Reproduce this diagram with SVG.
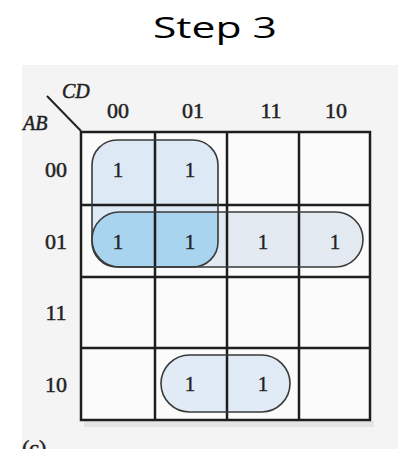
<svg xmlns="http://www.w3.org/2000/svg" width="398" height="449" viewBox="0 0 398 449">
  <defs>
    <style>
      .title { font-family: "Open Sans", "Liberation Sans", sans-serif; font-size: 29px; fill: #000; }
      .lbl { font-family: "Liberation Serif", serif; font-size: 22px; fill: #222; stroke: #222; stroke-width: 0.5; text-anchor: middle; }
      .var { font-family: "Liberation Serif", serif; font-style: italic; font-size: 20px; fill: #222; stroke: #222; stroke-width: 0.5; }
      .cap { font-family: "Liberation Serif", serif; font-size: 22px; fill: #222; stroke: #222; stroke-width: 0.5; }
      .one { font-family: "Liberation Serif", serif; font-size: 21px; fill: #222; stroke: #222; stroke-width: 0.4; text-anchor: middle; }
      .grid { stroke: #1e1e1e; stroke-width: 2.5; fill: none; }
      .loop { stroke: #3a3a3a; stroke-width: 1.6; fill: none; }
    </style>
    <clipPath id="vclip">
      <rect x="92" y="140" width="126" height="127" rx="25" ry="25"/>
    </clipPath>
  </defs>

  <rect x="0" y="0" width="398" height="449" fill="#ffffff"/>
  <g id="title">
    <text class="title" x="215" y="38" text-anchor="middle" textLength="124" lengthAdjust="spacingAndGlyphs">Step 3</text>
  </g>

  <!-- photo background -->
  <rect x="22" y="65" width="376" height="384" fill="#f4f4f4"/>
  <rect x="84" y="421" width="290" height="6" fill="#e4e4e4"/>

  <g id="axis-labels">
    <line x1="47" y1="96" x2="81" y2="131" stroke="#222" stroke-width="2"/>
    <text class="var" x="62" y="98">CD</text>
    <text class="var" x="23" y="130">AB</text>
    <text class="lbl" x="118" y="118">00</text>
    <text class="lbl" x="193" y="118">01</text>
    <text class="lbl" x="271" y="118">11</text>
    <text class="lbl" x="336" y="118">10</text>
    <text class="lbl" x="56" y="177">00</text>
    <text class="lbl" x="56" y="249">01</text>
    <text class="lbl" x="56" y="320">11</text>
    <text class="lbl" x="56" y="392">10</text>
    <text class="cap" x="22" y="455">(c)</text>
  </g>

  <g id="cells-bg">
    <rect x="81" y="132" width="289" height="288" fill="#fbfbfb"/>
  </g>

  <g id="loop-fills">
    <rect x="92" y="140" width="126" height="127" rx="25" ry="25" fill="#dde9f4"/>
    <rect x="92" y="212" width="271" height="55" rx="27.5" ry="27.5" fill="#e3eaf1"/>
    <rect x="92" y="212" width="271" height="55" rx="27.5" ry="27.5" fill="#a9d4f0" clip-path="url(#vclip)"/>
    <rect x="161" y="355" width="129" height="57" rx="28.5" ry="28.5" fill="#e1ebf5"/>
  </g>

  <g id="grid">
    <rect class="grid" x="81" y="132" width="289" height="288" stroke-width="3"/>
    <line class="grid" x1="155" y1="132" x2="155" y2="420"/>
    <line class="grid" x1="227" y1="132" x2="227" y2="420"/>
    <line class="grid" x1="299" y1="132" x2="299" y2="420"/>
    <line class="grid" x1="81" y1="205" x2="370" y2="205"/>
    <line class="grid" x1="81" y1="277" x2="370" y2="277"/>
    <line class="grid" x1="81" y1="348" x2="370" y2="348"/>
  </g>

  <g id="loops">
    <rect id="loop-vertical" class="loop" x="92" y="140" width="126" height="127" rx="25" ry="25"/>
    <rect id="loop-row01" class="loop" x="92" y="212" width="271" height="55" rx="27.5" ry="27.5"/>
    <rect id="loop-row10" class="loop" x="161" y="355" width="129" height="57" rx="28.5" ry="28.5"/>
  </g>

  <g id="values">
    <text class="one" x="118" y="177">1</text>
    <text class="one" x="190" y="177">1</text>
    <text class="one" x="118" y="249">1</text>
    <text class="one" x="190" y="249">1</text>
    <text class="one" x="263" y="249">1</text>
    <text class="one" x="335" y="249">1</text>
    <text class="one" x="190" y="391">1</text>
    <text class="one" x="263" y="391">1</text>
  </g>
</svg>
